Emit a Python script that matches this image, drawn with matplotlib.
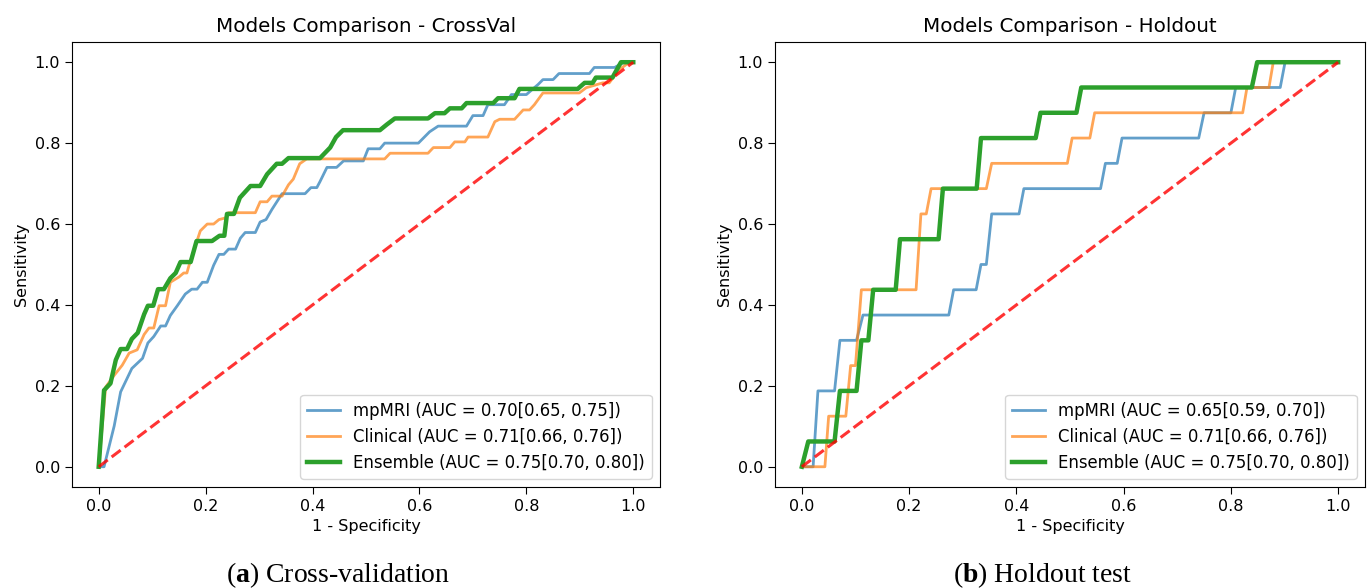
import matplotlib
matplotlib.use("Agg")
import matplotlib.pyplot as plt

plt.rcParams["mathtext.fontset"] = "custom"
plt.rcParams["mathtext.rm"] = "Liberation Serif"
plt.rcParams["mathtext.bf"] = "Liberation Serif:bold"

# ---------------- data: cross-validation (mean ROC curves) ----------------
cv_mpmri_fpr = [0, 0.010, 0.029, 0.041, 0.062, 0.082, 0.092, 0.103, 0.116, 0.125, 0.134, 0.147,
                0.162, 0.174, 0.184, 0.194, 0.203, 0.215, 0.225, 0.234, 0.243, 0.256, 0.265,
                0.274, 0.293, 0.302, 0.313, 0.324, 0.343, 0.386, 0.397, 0.408, 0.414, 0.427,
                0.445, 0.458, 0.495, 0.504, 0.526, 0.535, 0.598, 0.619, 0.635, 0.688, 0.700,
                0.719, 0.728, 0.759, 0.772, 0.800, 0.822, 0.831, 0.850, 0.861, 0.918, 0.927,
                0.965, 0.983, 1.0]
cv_mpmri_tpr = [0, 0, 0.101, 0.185, 0.243, 0.268, 0.306, 0.322, 0.348, 0.348, 0.374, 0.398,
                0.427, 0.439, 0.439, 0.456, 0.456, 0.498, 0.525, 0.525, 0.538, 0.538, 0.565,
                0.579, 0.579, 0.605, 0.611, 0.636, 0.675, 0.675, 0.690, 0.690, 0.705, 0.740,
                0.740, 0.756, 0.756, 0.786, 0.786, 0.800, 0.800, 0.828, 0.842, 0.842, 0.868,
                0.868, 0.895, 0.895, 0.920, 0.920, 0.945, 0.957, 0.957, 0.972, 0.972, 0.987,
                0.987, 1.0, 1.0]

cv_clin_fpr = [0, 0.013, 0.029, 0.044, 0.057, 0.072, 0.085, 0.094, 0.103, 0.113, 0.125, 0.134,
               0.150, 0.159, 0.165, 0.169, 0.190, 0.203, 0.215, 0.225, 0.237, 0.243, 0.293,
               0.302, 0.315, 0.324, 0.343, 0.355, 0.364, 0.376, 0.389, 0.535, 0.545, 0.616,
               0.626, 0.657, 0.666, 0.685, 0.691, 0.728, 0.741, 0.750, 0.778, 0.794, 0.806,
               0.815, 0.831, 0.899, 0.912, 0.943, 0.955, 0.974, 0.993, 1.0]
cv_clin_tpr = [0, 0.197, 0.226, 0.251, 0.281, 0.289, 0.327, 0.343, 0.343, 0.398, 0.398, 0.456,
               0.469, 0.479, 0.479, 0.498, 0.583, 0.600, 0.600, 0.611, 0.615, 0.628, 0.628,
               0.655, 0.655, 0.669, 0.669, 0.697, 0.711, 0.749, 0.761, 0.761, 0.775, 0.775,
               0.789, 0.789, 0.803, 0.803, 0.815, 0.815, 0.853, 0.859, 0.859, 0.882, 0.882,
               0.895, 0.924, 0.924, 0.937, 0.949, 0.949, 0.982, 1.0, 1.0]

cv_ens_fpr = [0, 0.010, 0.022, 0.032, 0.041, 0.053, 0.062, 0.073, 0.085, 0.092, 0.102, 0.111,
              0.122, 0.134, 0.144, 0.153, 0.172, 0.183, 0.212, 0.226, 0.235, 0.240, 0.253,
              0.264, 0.284, 0.302, 0.315, 0.333, 0.343, 0.355, 0.414, 0.433, 0.444, 0.457,
              0.526, 0.539, 0.554, 0.616, 0.629, 0.647, 0.657, 0.679, 0.688, 0.738, 0.747,
              0.778, 0.787, 0.896, 0.909, 0.924, 0.930, 0.961, 0.977, 1.0]
cv_ens_tpr = [0, 0.189, 0.206, 0.264, 0.291, 0.291, 0.316, 0.331, 0.377, 0.398, 0.398, 0.439,
              0.439, 0.466, 0.479, 0.506, 0.506, 0.558, 0.558, 0.571, 0.571, 0.625, 0.625,
              0.665, 0.694, 0.694, 0.723, 0.749, 0.749, 0.763, 0.763, 0.789, 0.815, 0.832,
              0.832, 0.846, 0.861, 0.861, 0.874, 0.874, 0.886, 0.886, 0.899, 0.899, 0.911,
              0.911, 0.934, 0.934, 0.949, 0.949, 0.962, 0.962, 1.0, 1.0]

# ---------------- data: holdout test ----------------
ho_mpmri_fpr = [0, 0.021, 0.030, 0.061, 0.071, 0.102, 0.114, 0.274, 0.283, 0.325, 0.334, 0.344,
                0.354, 0.405, 0.414, 0.557, 0.566, 0.588, 0.597, 0.740, 0.750, 0.800, 0.809,
                0.892, 0.901, 1.0]
ho_mpmri_tpr = [0, 0, 0.1875, 0.1875, 0.3125, 0.3125, 0.375, 0.375, 0.4375, 0.4375, 0.5, 0.5,
                0.625, 0.625, 0.6875, 0.6875, 0.75, 0.75, 0.8125, 0.8125, 0.875, 0.875, 0.9375,
                0.9375, 1.0, 1.0]

ho_clin_fpr = [0, 0.043, 0.050, 0.082, 0.091, 0.100, 0.111, 0.213, 0.222, 0.232, 0.241, 0.344,
               0.354, 0.495, 0.504, 0.537, 0.546, 0.822, 0.830, 0.871, 0.879, 1.0]
ho_clin_tpr = [0, 0, 0.125, 0.125, 0.25, 0.25, 0.4375, 0.4375, 0.625, 0.625, 0.6875, 0.6875,
               0.75, 0.75, 0.8125, 0.8125, 0.875, 0.875, 0.9375, 0.9375, 1.0, 1.0]

ho_ens_fpr = [0, 0.012, 0.061, 0.071, 0.102, 0.111, 0.124, 0.133, 0.175, 0.183, 0.255, 0.263,
              0.326, 0.334, 0.436, 0.445, 0.512, 0.521, 0.839, 0.849, 1.0]
ho_ens_tpr = [0, 0.0625, 0.0625, 0.1875, 0.1875, 0.3125, 0.3125, 0.4375, 0.4375, 0.5625,
              0.5625, 0.6875, 0.6875, 0.8125, 0.8125, 0.875, 0.875, 0.9375, 0.9375, 1.0, 1.0]

cv_labels = ["mpMRI (AUC = 0.70[0.65, 0.75])",
             "Clinical (AUC = 0.71[0.66, 0.76])",
             "Ensemble (AUC = 0.75[0.70, 0.80])"]
ho_labels = ["mpMRI (AUC = 0.65[0.59, 0.70])",
             "Clinical (AUC = 0.71[0.66, 0.76])",
             "Ensemble (AUC = 0.75[0.70, 0.80])"]
titles = ["Models Comparison - CrossVal", "Models Comparison - Holdout"]
captions = [("a", "Cross-validation"), ("b", "Holdout test")]
ticks = [0.0, 0.2, 0.4, 0.6, 0.8, 1.0]

# ---------------- figure ----------------
fig = plt.figure(figsize=(13.71, 5.88), dpi=100)
ax1 = fig.add_axes([0.0525, 0.1718, 0.4289, 0.7568])
ax2 = fig.add_axes([0.5653, 0.1718, 0.4303, 0.7568])

TICK_FS = 11.5
LEG_FS = 11.9
panels = [
    (ax1, [(cv_mpmri_fpr, cv_mpmri_tpr), (cv_clin_fpr, cv_clin_tpr), (cv_ens_fpr, cv_ens_tpr)], cv_labels),
    (ax2, [(ho_mpmri_fpr, ho_mpmri_tpr), (ho_clin_fpr, ho_clin_tpr), (ho_ens_fpr, ho_ens_tpr)], ho_labels),
]
styles = [dict(color="#1f77b4", lw=2.0, alpha=0.7),
          dict(color="#ff7f0e", lw=2.0, alpha=0.7),
          dict(color="#2ca02c", lw=3.2, alpha=1.0)]

for i, (ax, curves, labels) in enumerate(panels):
    for (fx, ty), lab, st in zip(curves, labels, styles):
        ax.plot(fx, ty, label=lab, **st)
    ax.plot([0, 1], [0, 1], linestyle="--", color="red", lw=2.2, alpha=0.8)
    ax.set_xlim(-0.05, 1.05)
    ax.set_ylim(-0.05, 1.05)
    ax.set_xticks(ticks)
    ax.set_yticks(ticks)
    ax.tick_params(labelsize=TICK_FS, length=5)
    ax.set_xlabel("1 - Specificity", fontsize=TICK_FS)
    ax.set_ylabel("Sensitivity", fontsize=TICK_FS)
    ax.set_title(titles[i], fontsize=14.3, pad=7)
    ax.legend(loc="lower right", fontsize=LEG_FS)

for ax, (letter, text) in zip([ax1, ax2], captions):
    pos = ax.get_position()
    cx = (pos.x0 + pos.x1) / 2
    fig.text(cx - 0.020, 0.010, r"($\mathbf{" + letter + r"}$) " + text,
             ha="center", va="baseline", fontsize=20, family="Liberation Serif")

fig.savefig("out.png", dpi=100)
